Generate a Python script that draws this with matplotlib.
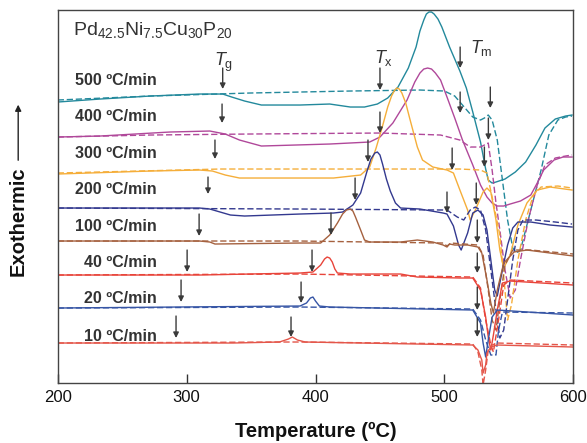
import matplotlib
matplotlib.use("Agg")
import matplotlib.pyplot as plt

plt.rcParams['font.family'] = ['Liberation Sans', 'DejaVu Sans']
plt.rcParams['mathtext.fontset'] = 'custom'
plt.rcParams['mathtext.rm'] = 'Liberation Sans'
plt.rcParams['mathtext.it'] = 'Liberation Sans:italic'

# ---------------- data (temperature in degC, signal in arbitrary units, offset per rate) -------------
rates = ['500 ºC/min', '400 ºC/min', '300 ºC/min', '200 ºC/min',
         '100 ºC/min', '40 ºC/min', '20 ºC/min', '10 ºC/min']
colors = ['#23899c', '#b0489a', '#f5ae3a', '#33398f',
          '#a5613f', '#e8443a', '#3655a5', '#e4564a']
label_y = [303, 267, 230, 194, 157, 121, 85, 47]

T500_s = [200, 233, 272, 310, 328, 335, 345, 358, 388, 411, 427, 438, 448, 456, 464, 472, 478, 481, 484,
          486, 488, 490, 492, 495, 498, 501, 504, 508, 512, 517, 522, 528, 532, 534, 537, 540, 547, 555,
          563, 571, 578, 586, 594, 599]
y500_s = [281, 284, 287, 289, 289, 286, 282, 278, 278, 279, 276, 276, 279, 285, 296, 315, 336, 352, 363,
          369, 371, 371, 369, 364, 356, 346, 336, 324, 312, 295, 271, 241, 214, 203, 200, 201, 204, 211,
          221, 238, 255, 264, 267, 268]
T500_d = [200, 272, 349, 427, 481, 500, 508, 516, 522, 528, 531, 534, 537, 541, 545, 549, 553, 556, 559,
          567, 575, 581, 588, 594, 599]
y500_d = [283, 287, 290, 292, 293, 292, 287, 275, 266, 263, 265, 268, 263, 243, 203, 163, 135, 130, 133,
          173, 213, 248, 263, 266, 267]

T400_s = [200, 233, 287, 318, 330, 341, 358, 411, 442, 450, 460, 471, 477, 481, 484, 487, 490, 493, 497,
          502, 508, 514, 522, 528, 533, 537, 541, 546, 551, 559, 567, 572, 577, 585, 592, 599]
y400_s = [246, 247, 251, 252, 249, 243, 237, 239, 241, 246, 260, 283, 301, 310, 314, 315, 314, 310, 303,
          286, 265, 243, 218, 198, 186, 180, 177, 177, 179, 182, 188, 200, 213, 223, 226, 226]
T400_d = [200, 272, 349, 450, 497, 512, 520, 528, 531, 534, 537, 540, 543, 547, 551, 555, 559, 565, 572,
          578, 586, 594, 599]
y400_d = [246, 248, 249, 250, 248, 243, 236, 236, 238, 240, 213, 180, 153, 113, 85, 93, 123, 163, 198,
          218, 225, 227, 228]

T300_s = [200, 272, 310, 320, 330, 341, 388, 414, 435, 442, 447, 452, 456, 459, 461, 463, 465, 467, 470,
          473, 479, 483, 491, 502, 507, 512, 518, 520, 524, 530, 533, 536, 540, 543, 546, 551, 557, 564,
          572, 582, 599]
y300_s = [209, 212, 213, 212, 208, 205, 205, 205, 208, 216, 235, 257, 276, 287, 292, 295, 294, 290, 280,
          265, 236, 223, 216, 213, 210, 193, 173, 163, 173, 191, 195, 191, 163, 133, 115, 128, 158, 180,
          193, 196, 193]
T300_d = [200, 326, 388, 512, 528, 533, 538, 543, 547, 549, 552, 557, 563, 569, 575, 588, 599]
y300_d = [210, 214, 214, 214, 213, 210, 180, 148, 93, 63, 78, 123, 163, 188, 196, 197, 195]

T200_s = [200, 310, 318, 334, 345, 388, 414, 421, 429, 435, 440, 443, 446, 448, 450, 452, 455, 458, 462,
          466, 481, 499, 502, 507, 511, 513, 518, 522, 526, 530, 533, 536, 539, 541, 545, 549, 553, 557,
          567, 582, 599]
y200_s = [175, 175, 174, 168, 167, 169, 170, 171, 178, 190, 212, 224, 230, 231, 228, 219, 204, 192, 180,
          175, 174, 170, 169, 157, 138, 133, 150, 170, 173, 168, 153, 123, 93, 87, 113, 138, 155, 161,
          161, 158, 156]
T200_d = [200, 388, 502, 510, 515, 520, 524, 528, 532, 536, 540, 543, 546, 549, 553, 557, 561, 571, 586, 599]
y200_d = [175, 174, 173, 166, 163, 173, 176, 173, 153, 113, 73, 45, 53, 83, 123, 153, 163, 163, 161, 159]

T100_s = [200, 310, 318, 322, 388, 404, 411, 417, 421, 424, 427, 429, 431, 435, 438, 442, 466, 479, 491,
          499, 502, 504, 508, 518, 526, 529, 533, 536, 538, 541, 546, 554, 564, 600]
y100_s = [142, 142, 141, 139, 140, 140, 148, 160, 169, 173, 174, 172, 166, 153, 143, 141, 141, 143, 141,
          138, 136, 139, 138, 138, 136, 130, 103, 80, 70, 93, 120, 131, 133, 127]
T100_d = [200, 388, 499, 502, 505, 526, 530, 534, 537, 540, 543, 547, 553, 567, 600]
y100_d = [142, 142, 140, 137, 140, 138, 128, 93, 63, 53, 83, 118, 133, 133, 129]

T40_s = [200, 310, 388, 398, 404, 407, 409, 411, 413, 415, 417, 427, 466, 479, 512, 522, 528, 532, 534,
         536, 538, 541, 545, 551, 600]
y40_s = [108, 108, 110, 111, 118, 124, 126, 125, 121, 114, 110, 109, 109, 106, 105, 105, 93, 66, 46,
         33, 48, 73, 100, 102, 98]
T40_d = [200, 388, 522, 528, 532, 536, 538, 542, 546, 551, 600]
y40_d = [108, 109, 106, 95, 63, 38, 31, 63, 98, 103, 100]

T20_s = [200, 388, 393, 396, 398, 400, 403, 411, 522, 528, 530, 532, 534, 537, 541, 600]
y20_s = [75, 77, 80, 85, 86, 82, 77, 76, 73, 60, 40, 26, 43, 66, 73, 68]
T20_d = [200, 388, 522, 528, 532, 536, 540, 542, 545, 600]
y20_d = [75, 76, 74, 63, 43, 28, 28, 53, 71, 70]

T10_s = [200, 336, 372, 379, 382, 386, 392, 522, 526, 529, 530, 532, 533, 536, 541, 600]
y10_s = [40, 40, 41, 44, 46, 43, 41, 38, 33, 23, 10, 18, 30, 36, 38, 36]
T10_d = [200, 372, 388, 522, 526, 529, 530, 532, 534, 537, 541, 600]
y10_d = [40, 41, 41, 39, 31, 13, -2, 13, 33, 38, 40, 38]

solid_T = [T500_s, T400_s, T300_s, T200_s, T100_s, T40_s, T20_s, T10_s]
solid_y = [y500_s, y400_s, y300_s, y200_s, y100_s, y40_s, y20_s, y10_s]
dash_T = [T500_d, T400_d, T300_d, T200_d, T100_d, T40_d, T20_d, T10_d]
dash_y = [y500_d, y400_d, y300_d, y200_d, y100_d, y40_d, y20_d, y10_d]

# characteristic-temperature arrows: (T, y_top, y_tip)
tg_T = [328, 327.5, 322, 316.6, 309.7, 300.4, 295.7, 291.8]
tg_top = [315, 279, 243, 206, 169, 133, 103, 67]
tg_tip = [294, 260, 224, 189, 147, 111, 81, 45]
tx_T = [450, 450, 440.7, 430.7, 412, 397.3, 388.8, 381]
tx_top = [315, 271, 243, 205, 170, 133, 101, 66]
tx_tip = [293, 250, 221, 183, 148, 111, 80, 46]
tm_T = [512.2, 535.6, 512.2, 534.1, 506, 531, 502, 524.7, 525.5, 525.5, 525.5, 525.5]
tm_top = [336, 296, 291, 265, 235, 236, 191, 200, 163, 130, 96, 65]
tm_tip = [315, 275, 270, 243, 213, 216, 170, 178, 140, 110, 73, 46]

xticks = [200, 300, 400, 500, 600]

# ---------------- figure -------------
fig = plt.figure(figsize=(5.87, 4.43), dpi=100)
ax = fig.add_axes([0.0983, 0.1354, 0.8784, 0.8431])

for Ts, ys, Td, yd, c in zip(solid_T, solid_y, dash_T, dash_y, colors):
    ax.plot(Td, yd, color=c, lw=1.0, dashes=(4.5, 2))
    ax.plot(Ts, ys, color=c, lw=1.0)

arrow_kw = dict(arrowstyle='-|>', color='#3a3a3a', lw=1.0, mutation_scale=8, shrinkA=0, shrinkB=0)
for Tlist, tops, tips in [(tg_T, tg_top, tg_tip), (tx_T, tx_top, tx_tip), (tm_T, tm_top, tm_tip)]:
    for t, a, b in zip(Tlist, tops, tips):
        ax.annotate('', xy=(t, b), xytext=(t, a), arrowprops=arrow_kw)

for lab, yy in zip(rates, label_y):
    ax.text(277, yy, lab, ha='right', va='center', fontsize=11.5, fontweight='bold', color='#333333')

ax.text(329, 317, r'$T_{\mathrm{g}}$', ha='center', va='baseline', fontsize=13, color='#333333')
ax.text(453, 320, r'$T_{\mathrm{x}}$', ha='center', va='baseline', fontsize=13, color='#333333')
ax.text(529, 330, r'$T_{\mathrm{m}}$', ha='center', va='baseline', fontsize=13, color='#333333')
ax.text(212, 348, r'Pd$_{42.5}$Ni$_{7.5}$Cu$_{30}$P$_{20}$', ha='left', va='baseline',
        fontsize=14, color='#333333')

ax.set_xlim(200, 600)
ax.set_ylim(0, 373.5)
ax.set_xticks(xticks)
ax.set_yticks([])
ax.tick_params(axis='x', direction='in', length=6.5, width=1, color='#333333',
               labelsize=12, pad=5, labelcolor='#111111')
for s in ax.spines.values():
    s.set_color('#444444')
    s.set_linewidth(1.0)
ax.set_xlabel('Temperature (ºC)', fontsize=14.5, fontweight='bold', labelpad=12, color='#111111')

fig.text(0.031, 0.50, 'Exothermic', rotation=90, ha='center', va='center',
         fontsize=14.5, fontweight='bold', color='#111111')
fig.patches.append(matplotlib.patches.FancyArrowPatch(
    (0.031, 0.632), (0.031, 0.77), transform=fig.transFigure, arrowstyle='-|>',
    mutation_scale=9, color='#222222', lw=1.0))

fig.savefig('out.png', dpi=100)
